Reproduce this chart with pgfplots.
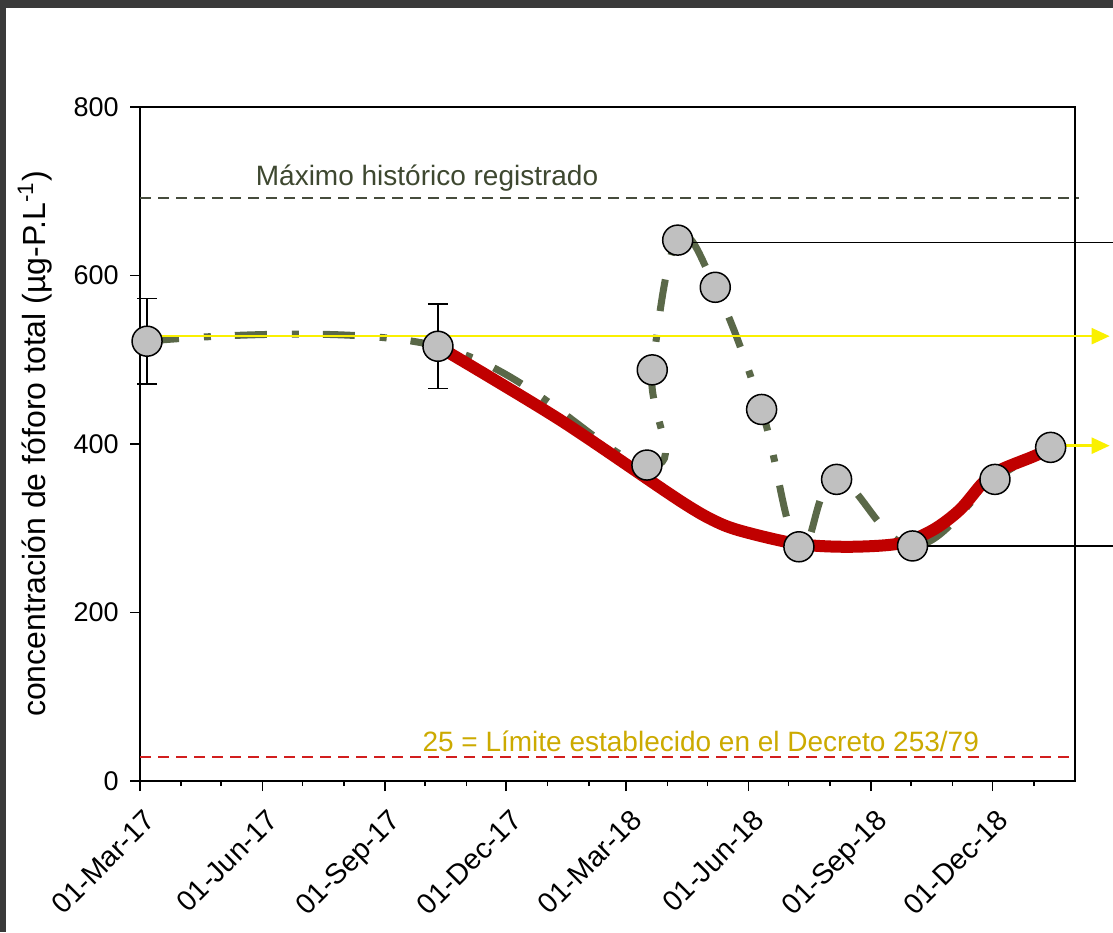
\documentclass[border=0pt]{standalone}
\usepackage{pgfplots}
\pgfplotsset{compat=1.18}
\usepackage{fontspec}
\setmainfont{Liberation Sans}
\usetikzlibrary{arrows.meta}
\definecolor{framec}{RGB}{58,58,58}
\definecolor{olivec}{RGB}{90,104,72}
\definecolor{redc}{RGB}{192,0,0}
\definecolor{yellowc}{RGB}{250,240,0}
\definecolor{maxc}{RGB}{70,76,60}
\definecolor{maxtext}{RGB}{62,72,48}
\definecolor{limred}{RGB}{210,30,30}
\definecolor{limtext}{RGB}{204,170,0}
\definecolor{markc}{RGB}{192,192,192}
\begin{document}
\begin{tikzpicture}[x=1pt,y=1pt]
\useasboundingbox (0,0) rectangle (556.5,466);
\fill[framec] (0,0) rectangle (556.5,466);
\fill[white] (3,0) rectangle (556.5,462);
\begin{axis}[
  at={(70pt,75.5pt)}, anchor=south west, scale only axis,
  width=467.5pt, height=337pt,
  xmin=0, xmax=702, ymin=0, ymax=800,
  clip=false,
  axis line style={black, line width=0.8pt},
  tick pos=left, tick align=outside,
  major tick length=5pt, minor tick length=2.5pt,
  every tick/.style={black, line width=0.8pt},
  xtick={0,92,184,275,365,457,549,640},
  xticklabels={01-Mar-17,01-Jun-17,01-Sep-17,01-Dec-17,01-Mar-18,01-Jun-18,01-Sep-18,01-Dec-18},
  minor xtick={31,61,122,153,214,245,306,337,396,426,487,518,579,610,671},
  ytick={0,200,400,600,800},
  /pgf/number format/assume math mode=true,
  xticklabel style={font=\fontsize{14.3}{16}\selectfont, xshift=1.5pt, yshift=-5.5pt, rotate=45, anchor=north east, inner sep=2pt},
  yticklabel style={font=\fontsize{13.5}{16}\selectfont, inner sep=5.5pt},
  ylabel={concentración de fóforo total (µg-P.L\textsuperscript{-1})},
  ylabel style={font=\fontsize{16}{19}\selectfont, at={(axis description cs:-0.1123,0.5)}, anchor=center},
]
% reference lines
\addplot[maxc, line width=0.75pt, dash pattern=on 5.5pt off 3.5pt] coordinates {(0,692) (705,692)};
\addplot[limred, line width=0.75pt, dash pattern=on 5.5pt off 3.5pt] coordinates {(0,28.5) (702,28.5)};
% error bars
\addplot[draw=none, mark=*, mark size=7.5pt, mark options={fill=markc, draw=black, line width=0.75pt},
  error bars/.cd, y dir=both, y explicit,
  error bar style={black, line width=0.75pt},
  error mark options={rotate=90, mark size=5pt, black, line width=0.75pt}]
  coordinates {(5.3,522) +- (0,50.5) (223.7,516) +- (0,50)};
% points
\addplot[only marks, mark=*, mark size=7.5pt, mark options={fill=markc, draw=black, line width=0.75pt}]
  coordinates {(380.6,375) (384.6,488) (403.7,642) (431.9,586) (466.7,441) (494.7,278)
  (523,358) (580,279) (641.9,358) (683.7,396)};
% dash-dot smoothed series
\addplot[olivec, line width=3.5pt, smooth, tension=0.7, dash pattern=on 16pt off 12.5pt on 3.5pt off 12pt]
  coordinates {(5.3,522) (223.7,516) (380.6,375) (384.6,488) (403.7,642) (431.9,586) (466.7,441) (494.7,278)
  (523,358) (580,279) (641.9,358) (683.7,396)};
% red trend
\addplot[redc, line width=6pt, smooth, tension=0.5]
  coordinates {(223.7,516) (315,429) (405,333) (435,306) (458,294) (495.5,281) (533,278)
  (570.6,282) (595.4,298) (615.6,322) (632.9,354) (645.6,369) (670.4,385) (690.7,399)};
% yellow arrows
\addplot[yellowc, line width=1.2pt, -{Triangle[length=9pt,width=8pt]}] coordinates {(5.3,528) (728,528)};
\addplot[yellowc, line width=1.2pt, -{Triangle[length=9pt,width=8pt]}] coordinates {(690,398) (728,398)};
% black lines to the right
\addplot[black, line width=0.75pt] coordinates {(413,639) (730.5,639)};
\addplot[black, line width=0.75pt] coordinates {(589,279) (730.5,279)};
% texts
\node[text=maxtext, font=\fontsize{14}{16}\selectfont] at (axis cs:215.5,716) {Máximo histórico registrado};
\node[text=limtext, font=\fontsize{14}{16}\selectfont] at (axis cs:421,47.5) {25 = Límite establecido en el Decreto 253/79};
\end{axis}
\end{tikzpicture}
\end{document}
